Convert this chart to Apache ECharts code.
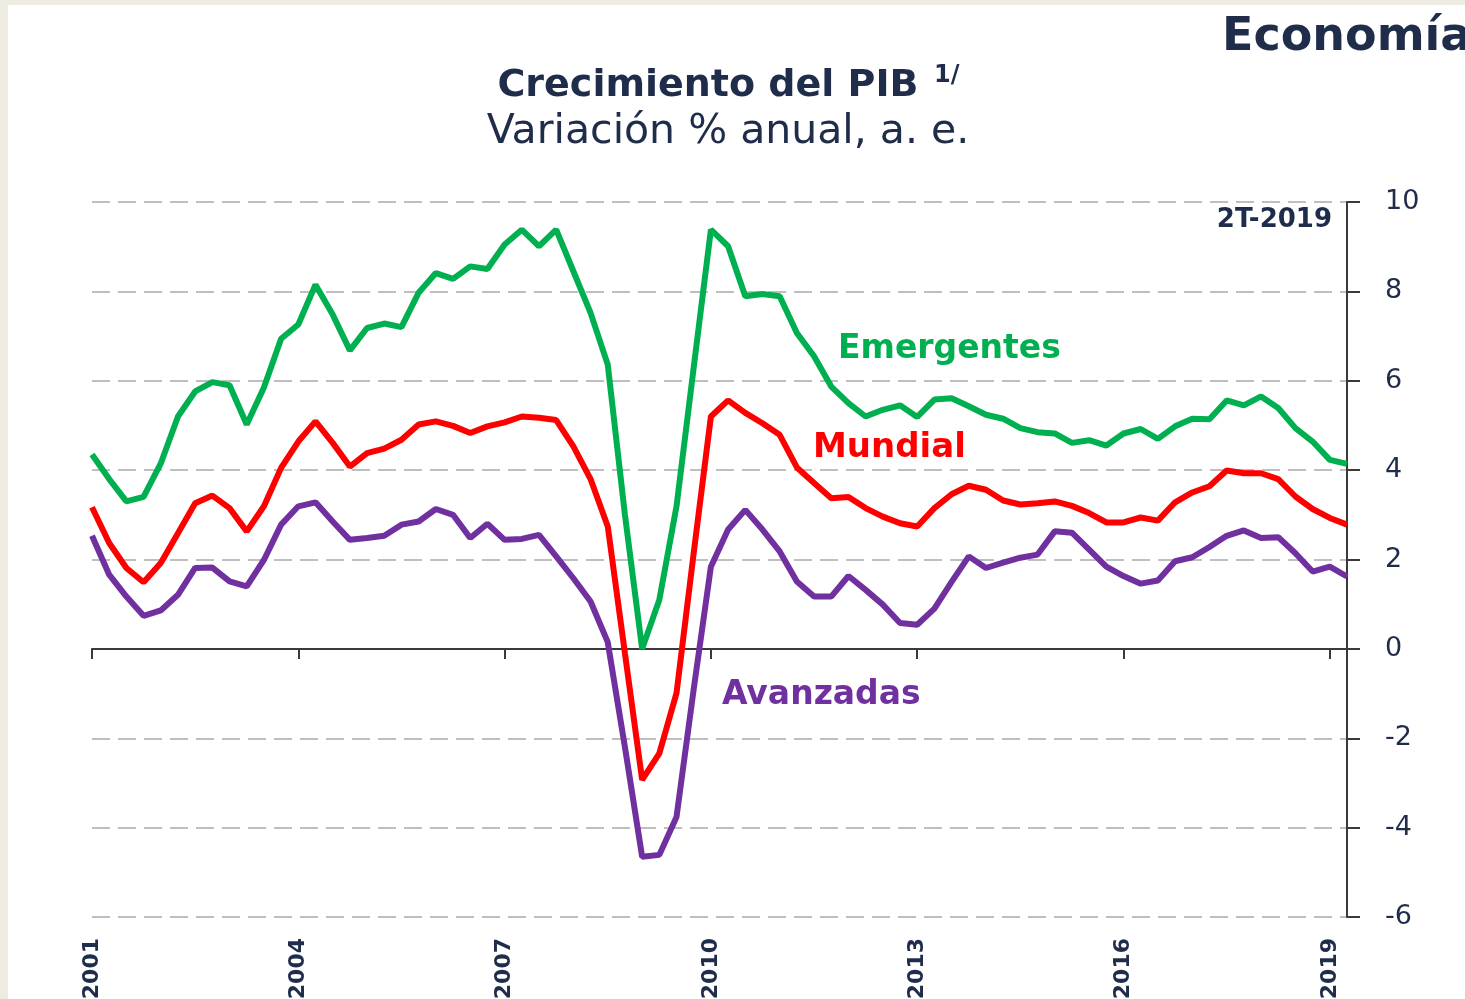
<!DOCTYPE html>
<html>
<head>
<meta charset="utf-8">
<script src="https://cdn.jsdelivr.net/npm/echarts@6/dist/echarts.min.js"></script>
<style>
  html, body { margin: 0; padding: 0; background: #ffffff; }
  #main { width: 1465px; height: 999px; }
</style>
</head>
<body>
<div id="main"></div>
<script>
// trimestres 2001T1 .. 2019T2
var years = [];
for (var yr = 2001; yr <= 2019; yr++) years.push(yr);
var quarters = [];
years.forEach(function (y) {
  [1, 2, 3, 4].forEach(function (q) {
    if (y === 2019 && q > 2) return;
    quarters.push(y + '-T' + q);
  });
});

var emergentes = [
  4.35, 3.8, 3.3, 3.4, 4.15, 5.2, 5.76, 5.97, 5.9, 5.02,
  5.85, 6.94, 7.26, 8.15, 7.48, 6.68, 7.18, 7.28, 7.2, 7.97,
  8.41, 8.28, 8.56, 8.5, 9.05, 9.38, 9.01, 9.38, 8.45, 7.52,
  6.36, 3.0, 0.0, 1.1, 3.19, 6.3, 9.38, 9.01, 7.89, 7.94,
  7.89, 7.07, 6.55, 5.87, 5.5, 5.2, 5.35, 5.45, 5.19, 5.58,
  5.61, 5.43, 5.24, 5.15, 4.94, 4.85, 4.82, 4.61, 4.67, 4.55,
  4.82, 4.92, 4.7, 4.98, 5.15, 5.14, 5.56, 5.45, 5.65, 5.39,
  4.94, 4.64, 4.23, 4.14
];
var mundial = [
  3.17, 2.37, 1.81, 1.49, 1.92, 2.59, 3.26, 3.43, 3.15, 2.63,
  3.19, 4.05, 4.64, 5.09, 4.61, 4.08, 4.38, 4.48, 4.68, 5.02,
  5.09, 4.99, 4.83, 4.98, 5.07, 5.2, 5.17, 5.12, 4.53, 3.8,
  2.74, -0.1, -2.93, -2.34, -0.99, 2.15, 5.2, 5.56, 5.28, 5.05,
  4.79, 4.06, 3.71, 3.37, 3.4, 3.15, 2.96, 2.81, 2.74, 3.15,
  3.46, 3.65, 3.56, 3.32, 3.23, 3.26, 3.3, 3.2, 3.04, 2.83,
  2.83, 2.94, 2.87, 3.28, 3.5, 3.64, 3.99, 3.93, 3.93, 3.8,
  3.41, 3.13, 2.93, 2.78
];
var avanzadas = [
  2.53, 1.66, 1.17, 0.74, 0.86, 1.21, 1.81, 1.82, 1.51, 1.4,
  1.99, 2.78, 3.19, 3.28, 2.85, 2.44, 2.48, 2.53, 2.78, 2.85,
  3.13, 3.0, 2.48, 2.8, 2.44, 2.46, 2.55, 2.07, 1.58, 1.06,
  0.15, -2.2, -4.65, -4.61, -3.76, -0.9, 1.84, 2.67, 3.11, 2.67,
  2.18, 1.51, 1.17, 1.17, 1.63, 1.32, 0.99, 0.58, 0.54, 0.9,
  1.5, 2.07, 1.81, 1.93, 2.04, 2.11, 2.63, 2.6, 2.22, 1.84,
  1.63, 1.46, 1.53, 1.96, 2.05, 2.28, 2.53, 2.65, 2.48, 2.5,
  2.14, 1.73, 1.84, 1.62
];

var navy = '#1f2d4b';
var font = 'DejaVu Sans';

var myChart = echarts.init(document.getElementById('main'));
var option = {
  backgroundColor: '#ffffff',
  animation: false,
  textStyle: { fontFamily: font },
  grid: { left: 92, right: 118, top: 202, bottom: 82, outerBoundsMode: 'none', containLabel: false },
  graphic: [
    // marco beige
    { type: 'rect', left: 0, top: 0, shape: { width: 1465, height: 5 }, style: { fill: '#eeebe3' }, z: -1 },
    { type: 'rect', left: 0, top: 0, shape: { width: 8, height: 999 }, style: { fill: '#eeebe3' }, z: -1 },
    { type: 'text', x: 1222, y: 38, style: { text: 'Economía', fill: navy, font: 'bold 46px "DejaVu Sans"', textVerticalAlign: 'middle' } },
    { type: 'text', x: 708, y: 86, style: { text: 'Crecimiento del PIB', fill: navy, font: 'bold 38px "DejaVu Sans"', textAlign: 'center', textVerticalAlign: 'middle' } },
    { type: 'text', x: 934, y: 76, style: { text: '1/', fill: navy, font: 'bold 24px "DejaVu Sans"', textVerticalAlign: 'middle' } },
    { type: 'text', x: 728, y: 132, style: { text: 'Variación % anual, a. e.', fill: navy, font: '41px "DejaVu Sans"', textAlign: 'center', textVerticalAlign: 'middle' } },
    { type: 'text', x: 1332, y: 220, style: { text: '2T-2019', fill: navy, font: 'bold 26px "DejaVu Sans"', textAlign: 'right', textVerticalAlign: 'middle' } },
    { type: 'text', x: 838, y: 349, style: { text: 'Emergentes', fill: '#00b050', font: 'bold 33px "DejaVu Sans"', textVerticalAlign: 'middle' } },
    { type: 'text', x: 813, y: 448, style: { text: 'Mundial', fill: '#ff0000', font: 'bold 34px "DejaVu Sans"', textVerticalAlign: 'middle' } },
    { type: 'text', x: 722, y: 695, style: { text: 'Avanzadas', fill: '#7030a0', font: 'bold 33px "DejaVu Sans"', textVerticalAlign: 'middle' } }
  ],
  xAxis: [
    {
      type: 'category',
      data: quarters,
      boundaryGap: false,
      axisLine: { onZero: true, lineStyle: { color: '#3a3a3a', width: 2 } },
      axisTick: { interval: 11, length: 10, lineStyle: { color: '#3a3a3a', width: 2 } },
      axisLabel: { show: false },
      splitLine: { show: false }
    },
    {
      type: 'category',
      data: quarters,
      boundaryGap: false,
      position: 'bottom',
      axisLine: { show: false, onZero: false },
      axisTick: { show: false },
      axisLabel: {
        interval: 11,
        rotate: 90,
        margin: 21,
        color: navy,
        fontSize: 22,
        fontWeight: 'bold',
        fontFamily: font,
        formatter: function (v) { return v.slice(0, 4); }
      }
    }
  ],
  yAxis: {
    type: 'value',
    position: 'right',
    min: -6,
    max: 10,
    interval: 2,
    axisLine: { show: true, lineStyle: { color: '#3a3a3a', width: 2 } },
    axisTick: { show: true, length: 13, lineStyle: { color: '#3a3a3a', width: 2 } },
    axisLabel: { margin: 38, color: navy, fontSize: 27, fontFamily: font },
    splitLine: { lineStyle: { color: '#bfbfbf', width: 2, type: [18, 8] } }
  },
  series: [
    { name: 'Avanzadas', type: 'line', data: avanzadas, symbol: 'none', lineStyle: { color: '#7030a0', width: 6 }, z: 3 },
    { name: 'Mundial', type: 'line', data: mundial, symbol: 'none', lineStyle: { color: '#ff0000', width: 6 }, z: 4 },
    { name: 'Emergentes', type: 'line', data: emergentes, symbol: 'none', lineStyle: { color: '#00b050', width: 6 }, z: 5 }
  ]
};
myChart.setOption(option);
</script>
</body>
</html>
